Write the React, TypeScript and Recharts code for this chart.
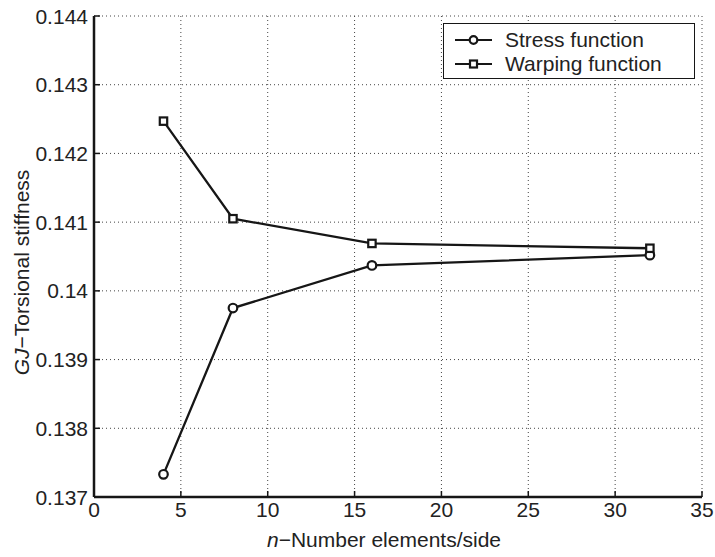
import { LineChart, Line, XAxis, YAxis, CartesianGrid } from "recharts";

const FONT = '"Liberation Sans", Arial, Helvetica, sans-serif';
const INK = "#161616";

// n = number of elements per side
const nValues = [4, 8, 16, 32];
const stressFunction = [0.13733, 0.13975, 0.14037, 0.14052];
const warpingFunction = [0.14247, 0.14105, 0.14069, 0.14062];

const xTicks = [0, 5, 10, 15, 20, 25, 30, 35];
const yTicks = [0.137, 0.138, 0.139, 0.14, 0.141, 0.142, 0.143, 0.144];

const data = nValues.map((n, i) => ({
  n,
  stress: stressFunction[i],
  warping: warpingFunction[i],
}));

function BottomTick(props: any) {
  const { x, y, payload } = props;
  return (
    <g>
      <line x1={x} y1={y} x2={x} y2={y - 6} stroke={INK} strokeWidth={1.5} />
      <text x={x} y={y + 20} textAnchor="middle" fontSize={21} fill="#222" fontFamily={FONT}>
        {payload.value}
      </text>
    </g>
  );
}

function TopTick(props: any) {
  const { x, y } = props;
  return <line x1={x} y1={y} x2={x} y2={y + 6} stroke={INK} strokeWidth={1.5} />;
}

function LeftTick(props: any) {
  const { x, y, payload } = props;
  return (
    <g>
      <line x1={x} y1={y} x2={x + 6} y2={y} stroke={INK} strokeWidth={1.5} />
      <text x={x - 6} y={y} dy="0.36em" textAnchor="end" fontSize={21} fill="#222" fontFamily={FONT}>
        {String(payload.value)}
      </text>
    </g>
  );
}

function RightTick(props: any) {
  const { x, y } = props;
  return <line x1={x} y1={y} x2={x - 6} y2={y} stroke={INK} strokeWidth={1.5} />;
}

function CircleDot(props: any) {
  const { cx, cy } = props;
  return <circle cx={cx} cy={cy} r={4.3} fill="#fff" stroke={INK} strokeWidth={2.2} />;
}

function SquareDot(props: any) {
  const { cx, cy } = props;
  return <rect x={cx - 3.7} y={cy - 3.7} width={7.4} height={7.4} fill="#fff" stroke={INK} strokeWidth={2.2} />;
}

function LegendBox() {
  const rows = [
    { name: "Stress function", marker: "circle" },
    { name: "Warping function", marker: "square" },
  ];
  return (
    <div
      style={{
        position: "absolute",
        left: 443,
        top: 23,
        width: 252,
        height: 56,
        border: `1.5px solid ${INK}`,
        background: "#fff",
        boxSizing: "border-box",
        fontFamily: FONT,
        fontSize: 21,
        color: "#222",
        paddingTop: 4,
      }}
    >
      {rows.map((r) => (
        <div key={r.name} style={{ display: "flex", alignItems: "center", height: 24, lineHeight: "24px" }}>
          <svg width={61} height={24} style={{ flex: "none" }}>
            <line x1={11} y1={12} x2={48} y2={12} stroke={INK} strokeWidth={2.2} />
            {r.marker === "circle" ? (
              <circle cx={29.5} cy={12} r={3.8} fill="#fff" stroke={INK} strokeWidth={2.2} />
            ) : (
              <rect x={26} y={8.5} width={7} height={7} fill="#fff" stroke={INK} strokeWidth={2.2} />
            )}
          </svg>
          <span style={{ whiteSpace: "nowrap" }}>{r.name}</span>
        </div>
      ))}
    </div>
  );
}

export default function App() {
  return (
    <div style={{ position: "absolute", left: 0, top: 0, width: 715, height: 557, background: "#fff" }}>
      <LineChart width={715} height={557} data={data} margin={{ top: 16, right: 13, left: 0, bottom: 0 }}>
        <CartesianGrid stroke="#444" strokeDasharray="1 3" strokeWidth={1} />
        <XAxis
          dataKey="n"
          type="number"
          domain={[0, 35]}
          ticks={xTicks}
          height={60}
          tickSize={0}
          tickMargin={0}
          tick={<BottomTick />}
          axisLine={{ stroke: INK, strokeWidth: 2.5 }}
          tickLine={false}
          label={{
            content: (p: any) => {
              const vb = p.viewBox;
              return (
                <text x={vb.x + vb.width / 2 - 14} y={vb.y + 50} textAnchor="middle" fontSize={21} fill="#222" fontFamily={FONT}>
                  <tspan fontStyle="italic">n</tspan>
                  <tspan>−Number elements/side</tspan>
                </text>
              );
            },
          }}
        />
        <XAxis
          xAxisId="top"
          orientation="top"
          type="number"
          domain={[0, 35]}
          ticks={xTicks}
          height={0}
          tickSize={0}
          tickMargin={0}
          tick={<TopTick />}
          axisLine={{ stroke: INK, strokeWidth: 2.5 }}
          tickLine={false}
        />
        <YAxis
          type="number"
          domain={[0.137, 0.144]}
          ticks={yTicks}
          width={94}
          tickSize={0}
          tickMargin={0}
          tick={<LeftTick />}
          axisLine={{ stroke: INK, strokeWidth: 2.5 }}
          tickLine={false}
          label={{
            content: (p: any) => {
              const vb = p.viewBox;
              const cx = vb.x + 21;
              const cy = vb.y + vb.height / 2 + 16;
              return (
                <text
                  x={cx}
                  y={cy}
                  transform={`rotate(-90 ${cx} ${cy})`}
                  textAnchor="middle"
                  dy="0.36em"
                  fontSize={21}
                  fill="#222"
                  fontFamily={FONT}
                >
                  <tspan fontStyle="italic">GJ</tspan>
                  <tspan>−Torsional stiffness</tspan>
                </text>
              );
            },
          }}
        />
        <YAxis
          yAxisId="right"
          orientation="right"
          type="number"
          domain={[0.137, 0.144]}
          ticks={yTicks}
          width={0}
          tickSize={0}
          tickMargin={0}
          tick={<RightTick />}
          axisLine={{ stroke: INK, strokeWidth: 2.5 }}
          tickLine={false}
        />
        <Line
          dataKey="stress"
          name="Stress function"
          stroke={INK}
          strokeWidth={2.3}
          dot={<CircleDot />}
          activeDot={false}
          isAnimationActive={false}
        />
        <Line
          dataKey="warping"
          name="Warping function"
          stroke={INK}
          strokeWidth={2.3}
          dot={<SquareDot />}
          activeDot={false}
          isAnimationActive={false}
        />
      </LineChart>
      <LegendBox />
    </div>
  );
}
